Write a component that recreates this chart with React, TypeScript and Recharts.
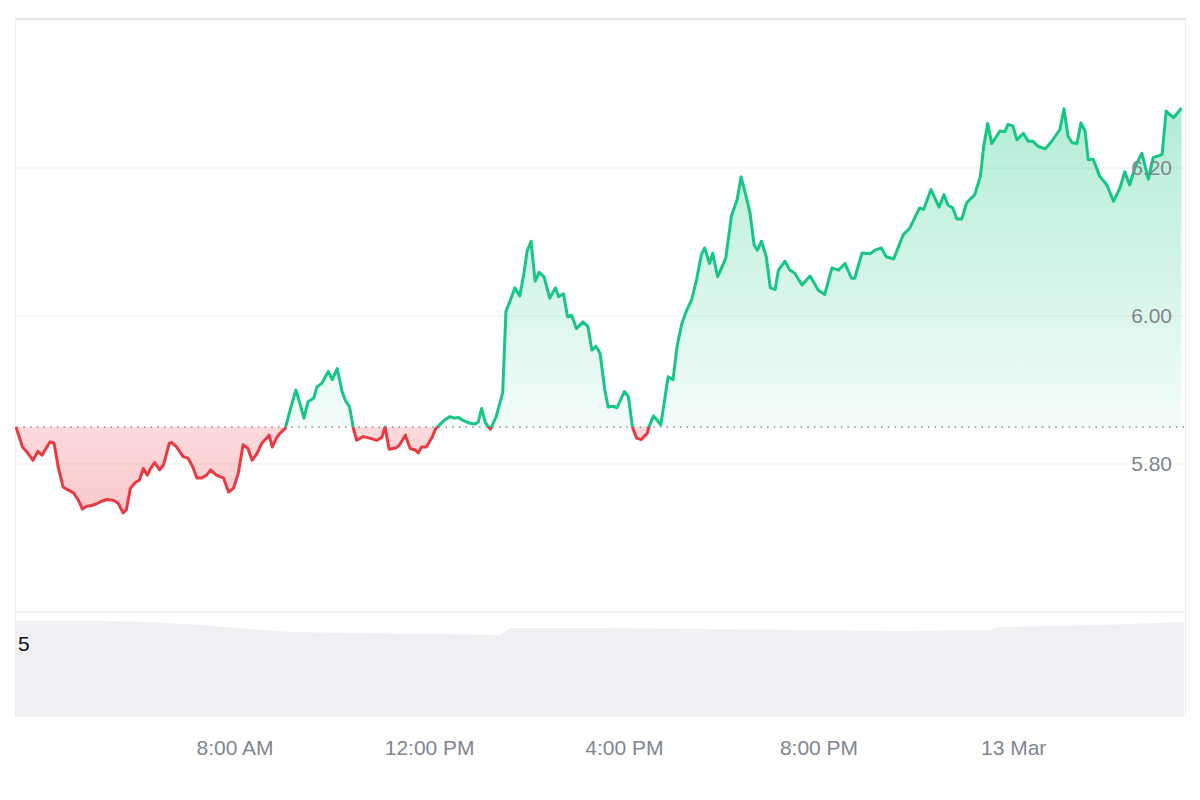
import React from "react";
import {
  ComposedChart,
  AreaChart,
  Area,
  XAxis,
  YAxis,
  CartesianGrid,
  ReferenceLine,
} from "recharts";

// minutes since 3:30 AM (12 Mar) -> price (USD)
const TIMES: number[] = [
  0, 8, 13, 21, 27, 32, 42, 47, 52, 58, 64, 71, 77, 82, 87, 93, 99, 104, 112, 120,
  126, 132, 136, 141, 147, 152, 157, 162, 166, 171, 177, 182, 189, 192, 198, 206, 212, 218, 223, 229,
  235, 240, 247, 256, 262, 268, 274, 280, 286, 291, 297, 303, 309, 312, 316, 321, 325, 332, 338, 345,
  350, 355, 360, 367, 371, 377, 385, 390, 396, 402, 406, 411, 416, 420, 428, 436, 445, 451, 455, 460,
  469, 473, 480, 486, 492, 496, 500, 506, 513, 517, 523, 529, 535, 541, 545, 551, 560, 566, 570, 574,
  579, 585, 592, 600, 604, 608, 615, 621, 626, 630, 635, 640, 645, 651, 658, 665, 669, 675, 680, 685,
  691, 699, 705, 710, 715, 720, 726, 730, 736, 741, 750, 755, 760, 765, 771, 778, 782, 786, 795, 804,
  810, 815, 821, 827, 833, 839, 845, 849, 855, 859, 865, 875, 882, 889, 894, 900, 905, 910, 914, 919,
  925, 930, 936, 940, 948, 954, 960, 969, 979, 989, 997, 1006, 1014, 1022, 1030, 1034, 1043, 1053, 1059, 1067,
  1073, 1082, 1094, 1102, 1114, 1119, 1128, 1138, 1144, 1149, 1155, 1160, 1166, 1172, 1182, 1189, 1193, 1198, 1203, 1213,
  1219, 1223, 1229, 1234, 1242, 1248, 1254, 1260, 1269, 1277, 1287, 1292, 1297, 1302, 1308, 1313, 1318, 1322, 1328, 1336,
  1345, 1353, 1361, 1367, 1373, 1380, 1388, 1396, 1402, 1413, 1418, 1427, 1437,
];

const PRICES: number[] = [
  5.850, 5.823, 5.817, 5.805, 5.817, 5.812, 5.830, 5.828, 5.796, 5.769, 5.765, 5.761, 5.751, 5.739, 5.743, 5.744, 5.746, 5.749, 5.752, 5.751,
  5.747, 5.734, 5.738, 5.767, 5.775, 5.778, 5.794, 5.785, 5.794, 5.802, 5.792, 5.799, 5.828, 5.829, 5.823, 5.810, 5.808, 5.796, 5.781, 5.781,
  5.785, 5.792, 5.785, 5.781, 5.762, 5.767, 5.787, 5.826, 5.821, 5.805, 5.814, 5.828, 5.835, 5.839, 5.823, 5.835, 5.841, 5.848, 5.873, 5.900,
  5.882, 5.862, 5.884, 5.889, 5.904, 5.909, 5.925, 5.914, 5.929, 5.898, 5.886, 5.878, 5.848, 5.832, 5.837, 5.835, 5.832, 5.836, 5.850, 5.820,
  5.822, 5.826, 5.839, 5.821, 5.819, 5.815, 5.823, 5.823, 5.836, 5.847, 5.854, 5.860, 5.864, 5.862, 5.863, 5.859, 5.855, 5.854, 5.857, 5.875,
  5.855, 5.847, 5.864, 5.896, 6.006, 6.017, 6.038, 6.027, 6.056, 6.087, 6.101, 6.047, 6.059, 6.053, 6.024, 6.038, 6.026, 6.030, 5.999, 6.001,
  5.983, 5.992, 5.986, 5.954, 5.959, 5.950, 5.900, 5.877, 5.878, 5.876, 5.898, 5.891, 5.850, 5.835, 5.833, 5.841, 5.855, 5.865, 5.853, 5.918,
  5.914, 5.959, 5.990, 6.008, 6.022, 6.049, 6.083, 6.092, 6.071, 6.085, 6.053, 6.078, 6.135, 6.157, 6.188, 6.162, 6.139, 6.096, 6.089, 6.101,
  6.080, 6.038, 6.036, 6.062, 6.074, 6.062, 6.058, 6.042, 6.054, 6.035, 6.029, 6.065, 6.062, 6.071, 6.051, 6.051, 6.085, 6.084, 6.089, 6.092,
  6.080, 6.077, 6.110, 6.119, 6.146, 6.144, 6.171, 6.147, 6.164, 6.150, 6.146, 6.131, 6.131, 6.153, 6.164, 6.189, 6.229, 6.260, 6.233, 6.250,
  6.249, 6.259, 6.257, 6.238, 6.247, 6.236, 6.236, 6.229, 6.226, 6.236, 6.252, 6.280, 6.243, 6.234, 6.233, 6.261, 6.250, 6.211, 6.212, 6.189,
  6.177, 6.155, 6.173, 6.195, 6.177, 6.202, 6.220, 6.185, 6.214, 6.218, 6.277, 6.268, 6.281,
];

// volume panel (relative units)
const VOL_TIMES: number[] = [0, 103, 165, 227, 288, 338, 412, 510, 597, 609, 720, 843, 967, 1090, 1201, 1213, 1336, 1440];
const VOL_VALUES: number[] = [96, 96, 95, 92, 88, 85, 84, 83, 82, 89, 89, 88, 87, 86, 87, 90, 92, 95];

const Y_TICKS: number[] = [5.8, 6.0, 6.2];
const X_TICKS: number[] = [270, 510, 750, 990, 1230];
const X_TICK_LABELS: string[] = ["8:00 AM", "12:00 PM", "4:00 PM", "8:00 PM", "13 Mar"];

const GREEN = "#16c784";
const RED = "#ea3943";
const FONT = "'Liberation Sans', Arial, sans-serif";

const priceData = TIMES.map((t, i) => ({ t, p: PRICES[i] }));
const volData = VOL_TIMES.map((t, i) => ({ t, v: VOL_VALUES[i] }));

const BASE = PRICES[0];
const maxP = Math.max(...PRICES);
const minP = Math.min(...PRICES);
const OFF = (maxP - BASE) / (maxP - minP);

export default function App() {
  return (
    <div style={{ position: "absolute", left: 0, top: 0, width: 1200, height: 800, background: "#fff", fontFamily: FONT }}>
      <div
        style={{
          position: "absolute",
          left: 15,
          top: 18,
          width: 1171,
          height: 700,
          boxSizing: "border-box",
          borderLeft: "1px solid #eceef1",
          borderRight: "1px solid #eceef1",
          borderTop: "2px solid #e2e2e2",
        }}
      />
      <div style={{ position: "absolute", left: 0, top: 0 }}>
        <ComposedChart width={1200} height={620} data={priceData} margin={{ top: 20, right: 16, bottom: 8, left: 16 }}>
          <defs>
            <linearGradient id="strokeSplit" x1="0" y1="0" x2="0" y2="1">
              <stop offset={OFF} stopColor={GREEN} />
              <stop offset={OFF} stopColor={RED} />
            </linearGradient>
            <linearGradient id="fillSplit" x1="0" y1="0" x2="0" y2="1">
              <stop offset={0} stopColor={GREEN} stopOpacity={0.33} />
              <stop offset={OFF} stopColor={GREEN} stopOpacity={0.05} />
              <stop offset={OFF} stopColor={RED} stopOpacity={0.19} />
              <stop offset={1} stopColor={RED} stopOpacity={0.27} />
            </linearGradient>
          </defs>
          <CartesianGrid vertical={false} stroke="#f0f0f0" />
          <XAxis type="number" dataKey="t" domain={[0, 1440]} hide />
          <YAxis
            orientation="right"
            mirror
            domain={[5.6, 6.4]}
            ticks={Y_TICKS}
            allowDataOverflow
            axisLine={false}
            tickLine={false}
            tickMargin={6}
            tick={{ fill: "#80868f", fontSize: 21, fontFamily: FONT }}
            tickFormatter={(v: number) => v.toFixed(2)}
          />
          <ReferenceLine y={5.6} stroke="#ececec" strokeWidth={1} />
          <Area
            type="linear"
            dataKey="p"
            baseValue={BASE}
            stroke="url(#strokeSplit)"
            strokeWidth={3}
            strokeLinejoin="round"
            fill="url(#fillSplit)"
            fillOpacity={1}
            isAnimationActive={false}
            dot={false}
            activeDot={false}
          />
          <ReferenceLine y={BASE} stroke="#8a8a8a" strokeWidth={1.5} strokeDasharray="1.5 5.2" />
        </ComposedChart>
      </div>
      <div style={{ position: "absolute", left: 0, top: 600 }}>
        <AreaChart width={1200} height={200} data={volData} margin={{ top: 17, right: 16, bottom: 0, left: 16 }}>
          <XAxis
            type="number"
            dataKey="t"
            domain={[0, 1440]}
            ticks={X_TICKS}
            height={83}
            axisLine={false}
            tickLine={false}
            tickMargin={17}
            tick={{ fill: "#80868f", fontSize: 21, fontFamily: FONT }}
            tickFormatter={(v: number) => X_TICK_LABELS[X_TICKS.indexOf(v)] ?? ""}
          />
          <YAxis hide domain={[0, 100]} />
          <Area
            type="linear"
            dataKey="v"
            stroke="none"
            fill="#eef0f4"
            fillOpacity={1}
            isAnimationActive={false}
            dot={false}
            activeDot={false}
          />
        </AreaChart>
      </div>
      <div style={{ position: "absolute", left: 18, top: 632, fontSize: 21, color: "#111", fontFamily: FONT, lineHeight: "24px" }}>5</div>
    </div>
  );
}
